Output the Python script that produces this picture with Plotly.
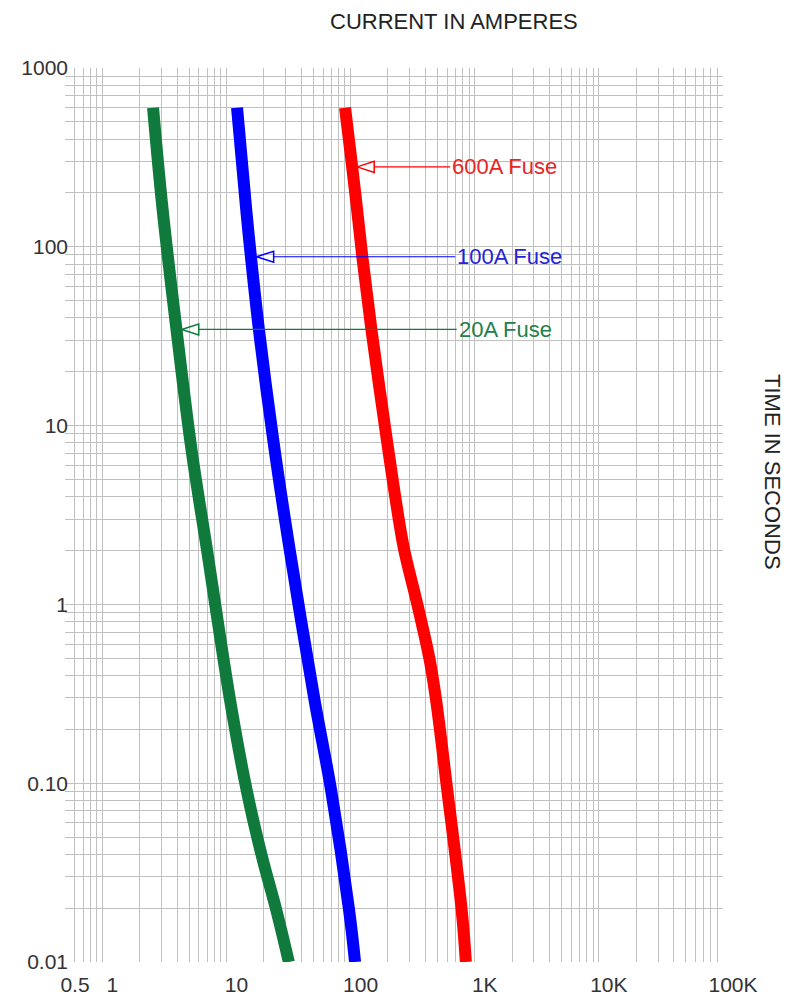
import numpy as np
import plotly.graph_objects as go

# ---------------- data ----------------
fuse_labels = ["600A Fuse", "100A Fuse", "20A Fuse"]

green_time = [600, 160.7, 34.7, 7.3, 2.01, 0.292, 0.0916, 0.0387, 0.0195, 0.01]
green_current = [2.56, 3.06, 3.95, 5.23, 6.97, 10.68, 14.53, 19.34, 25.2, 31.8]

blue_time = [600, 160.7, 87.7, 34.7, 8.31, 2.01, 0.292, 0.0916, 0.0195, 0.01]
blue_current = [12.16, 14.43, 15.74, 18.23, 23.81, 32.33, 51.2, 69.6, 97.2, 108.6]

red_time = [600, 283, 160.7, 87.7, 34.7, 8.31, 2.97, 2.01, 0.967, 0.489, 0.292, 0.104, 0.0195, 0.01]
red_current = [90.2, 102.7, 112.9, 124.3, 146.9, 195.9, 244.7, 270.5, 348.8, 433.4, 488.2, 587.5, 784.8, 848.4]

# label arrows: time level, current at arrow tip, current at text start
label_time = [280, 88, 34.5]
label_tip_current = [113, 17.5, 4.36]
label_text_current = [633, 695, 716]

x_tickvals = [0.5, 1, 10, 100, 1000, 10000, 100000]
x_ticktext = ["0.5", "1", "10", "100", "1K", "10K", "100K"]
y_tickvals = [0.01, 0.1, 1, 10, 100, 1000]
y_ticktext = ["0.01", "0.10", "1", "10", "100", "1000"]

line_colors = ["#ff0000", "#0000ff", "#0f7a3c"]
text_colors = ["#e62626", "#2323d8", "#23804a"]

# ---------------- figure ----------------
FONT = "Liberation Sans, Arial, sans-serif"
fig = go.Figure()

series = [(red_current, red_time), (blue_current, blue_time), (green_current, green_time)]
for (cur, tim), col in zip(series[::-1], line_colors[::-1]):
    fig.add_trace(go.Scatter(x=cur, y=tim, mode="lines",
                             line=dict(color=col, width=12, shape="spline", smoothing=1.0),
                             hoverinfo="skip", showlegend=False))

xr = [np.log10(0.5), 5.0]
yr = [-2.0, 3.0]
PW, PH = 658, 894
px_per_dec_x = PW / (xr[1] - xr[0])
px_per_dec_y = PH / (yr[1] - yr[0])

tri_len = 17.0
tri_half = 5.5
for name, t, tip, txt, lc, tc in zip(fuse_labels, label_time, label_tip_current,
                                     label_text_current, line_colors, text_colors):
    base = tip * 10 ** (tri_len / px_per_dec_x)
    up = t * 10 ** (tri_half / px_per_dec_y)
    dn = t * 10 ** (-tri_half / px_per_dec_y)
    fig.add_trace(go.Scatter(x=[base, txt], y=[t, t], mode="lines",
                             line=dict(color=lc, width=1.2), hoverinfo="skip", showlegend=False))
    fig.add_trace(go.Scatter(x=[tip, base, base, tip], y=[t, up, dn, t], mode="lines",
                             line=dict(color=lc, width=1.5), hoverinfo="skip", showlegend=False))
    fig.add_annotation(x=np.log10(txt), y=np.log10(t), xref="x", yref="y",
                       text=name, showarrow=False, xanchor="left", yanchor="middle",
                       font=dict(family=FONT, size=22, color=tc))

minor_x = [m * 10.0 ** e for e in range(-1, 5) for m in range(2, 10) if 0.5 < m * 10.0 ** e < 100000]
minor_y = [m * 10.0 ** e for e in range(-2, 3) for m in range(2, 10)]

grid_col = "#c0c0c0"
fig.update_xaxes(type="log", range=xr, tickvals=x_tickvals, ticktext=x_ticktext,
                 showgrid=True, gridcolor=grid_col, gridwidth=1, zeroline=False,
                 showline=False, ticks="", ticklabelshift=10, ticklabelstandoff=8,
                 automargin=False,
                 tickfont=dict(family=FONT, size=21, color="#333333"),
                 minor=dict(tickvals=minor_x, showgrid=True, gridcolor=grid_col, gridwidth=1, ticks=""))
fig.update_yaxes(type="log", range=yr, tickvals=y_tickvals, ticktext=y_ticktext,
                 showgrid=True, gridcolor=grid_col, gridwidth=1, zeroline=False,
                 showline=False, ticks="", ticklabelstandoff=-4,
                 automargin=False,
                 tickfont=dict(family=FONT, size=21, color="#333333"),
                 minor=dict(tickvals=minor_y, showgrid=True, gridcolor=grid_col, gridwidth=1, ticks=""))

# page has an 8px body margin; positions below are in page pixels
def px_to_paper(X, Y):
    return (X - 65) / PW, (962 - Y) / PH

tx, ty = px_to_paper(454, 21)
fig.add_annotation(x=tx, y=ty, xref="paper", yref="paper", text="CURRENT IN AMPERES",
                   xanchor="center", yanchor="middle",
                   showarrow=False, font=dict(family=FONT, size=22, color="#222222"))
tx, ty = px_to_paper(773, 472)
fig.add_annotation(x=tx, y=ty, xref="paper", yref="paper", text="TIME IN SECONDS",
                   xanchor="center", yanchor="middle",
                   textangle=90, showarrow=False, font=dict(family=FONT, size=22, color="#222222"))

fig.update_layout(width=781, height=988, margin=dict(l=57, r=66, t=60, b=34, autoexpand=False),
                  paper_bgcolor="white", plot_bgcolor="white", showlegend=False)

fig.write_html("out.html")
